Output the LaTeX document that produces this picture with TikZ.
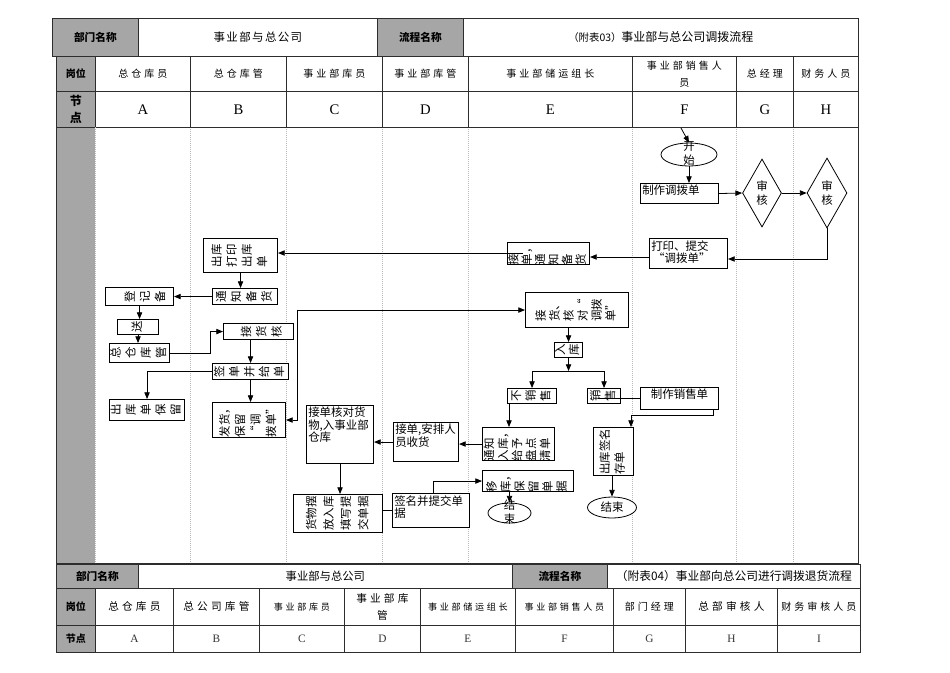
\documentclass[tikz,border=0pt]{standalone}
\usepackage{fontspec}
\setmainfont{Noto Sans CJK SC}
\newfontfamily\spfont{Noto Sans CJK SC}[LetterSpace=30]
\newfontfamily\spfontb{Noto Sans CJK SC}[LetterSpace=12]
\newfontfamily\latfont{Liberation Serif}
\usetikzlibrary{arrows.meta,shapes.geometric,calc}
\definecolor{hdr}{RGB}{166,166,166}
\definecolor{ln}{RGB}{45,45,45}
\newcommand\myfs[1]{\fontsize{#1}{12}\selectfont}
\newcommand\rt[2]{\fontsize{8.6}{#1}\selectfont\rotatebox{90}{\begin{tabular}{@{}l@{}}#2\end{tabular}}}
\newcommand\tc[7]{\node[draw=ln, line width=0.6pt, inner sep=0pt, align=center, anchor=north west, minimum width={(#4-#2)*0.75pt}, minimum height={(#5-#3)*0.75pt}, #6] (#1) at (#2,#3) {#7};}
\newcommand\bx[5]{\node[box, minimum width={(#4-#2)*0.75pt}, minimum height={(#5-#3)*0.75pt}] (#1) at (#2,#3) {};}
\begin{document}
\begin{tikzpicture}[x=0.75pt,y=-0.75pt,
  box/.style={draw=black, fill=white, line width=0.8pt, inner sep=0pt, anchor=north west},
  arr/.style={-{Triangle[length=5pt,width=4pt]}, line width=0.6pt},
  dbl/.style={{Triangle[length=5pt,width=4pt]}-{Triangle[length=5pt,width=4pt]}, line width=0.6pt},
  con/.style={line width=0.6pt},
  tl/.style={anchor=north west, inner sep=1.5pt, align=left, font=\fontsize{8.6}{9.2}\selectfont},
  txt/.style={inner sep=0pt, font=\fontsize{8.6}{10}\selectfont, align=center},
  ell/.style={ellipse, draw=black, fill=white, line width=0.6pt, inner sep=0pt},
  dia/.style={diamond, draw=black, fill=white, line width=0.6pt, inner sep=0pt},
  guide/.style={draw=gray!55, densely dotted, line width=0.5pt},
  hd/.style={fill=hdr, font=\bfseries\myfs{8}},
  hc/.style={font={\spfont\fontsize{7.5}{13}\selectfont}},
  lt/.style={font={\latfont\fontsize{11}{12}\selectfont}},
  lb/.style={font={\latfont\fontsize{8.5}{10}\selectfont}, text=black!80}
]
\useasboundingbox (0,0) rectangle (950,672);
\fill[white] (0,0) rectangle (950,672);

% ---------- top table ----------
\tc{h1}{52}{18}{138}{56}{hd}{部门名称}
\tc{h2}{138}{18}{377}{56}{font={\spfontb\myfs{8.6}}}{事业部与总公司}
\tc{h3}{377}{18}{463}{56}{hd}{流程名称}
\tc{h4}{463}{18}{858}{56}{font=\myfs{9}}{{\myfs{7.8}（附表03）}事业部与总公司调拨流程}

\tc{g0}{56}{56}{95}{91}{fill=hdr, font=\bfseries\myfs{7.5}}{岗位}
\tc{g1}{95}{56}{190}{91}{hc}{总仓库员}
\tc{g2}{190}{56}{286}{91}{hc}{总仓库管}
\tc{g3}{286}{56}{382}{91}{hc}{事业部库员}
\tc{g4}{382}{56}{468}{91}{hc}{事业部库管}
\tc{g5}{468}{56}{632}{91}{hc}{事业部储运组长}
\tc{g6}{632}{56}{736}{91}{hc}{事业部销售人\\员}
\tc{g7}{736}{56}{793}{91}{hc}{总经理}
\tc{g8}{793}{56}{858}{91}{hc}{财务人员}

\tc{n0}{56}{91}{95}{127}{fill=hdr, font={\bfseries\fontsize{9}{12.5}\selectfont}}{节\\点}
\tc{n1}{95}{91}{190}{127}{lt}{A}
\tc{n2}{190}{91}{286}{127}{lt}{B}
\tc{n3}{286}{91}{382}{127}{lt}{C}
\tc{n4}{382}{91}{468}{127}{lt}{D}
\tc{n5}{468}{91}{632}{127}{lt}{E}
\tc{n6}{632}{91}{736}{127}{lt}{F}
\tc{n7}{736}{91}{793}{127}{lt}{G}
\tc{n8}{793}{91}{858}{127}{lt}{H}

% ---------- body frame ----------
\fill[hdr] (56,127) rectangle (95,563);
\foreach \gx in {190,286,382,468,632,736,793}{\draw[guide] (\gx,127) -- (\gx,563);}
\draw[ln, line width=0.6pt] (56,127) rectangle (858,563);
\draw[guide] (95,127) -- (95,563);

% ---------- F / G / H : start ----------
\node[ell, minimum width=56*0.75pt, minimum height=23*0.75pt] (ks) at (689,154.5) {};
\node[txt, font=\fontsize{8.6}{10.5}\selectfont] (kst) at (689,154) {开\\始};
\coordinate (s0) at (681,128);
\draw[arr] (s0) -- (ks.north);

\bx{zd}{640}{183}{718}{203}
\node[tl] (zdt) at (zd.north west) {制作调拨单};
\draw[arr] (ks.south) -- (ks.south |- zd.north);

\node[dia, minimum width=39*0.75pt, minimum height=68*0.75pt] (d1) at (762,193) {};
\node[txt, font=\fontsize{8.6}{11}\selectfont] (d1t) at (762,193) {审\\核};
\node[dia, minimum width=40*0.75pt, minimum height=70*0.75pt] (d2) at (827,193) {};
\node[txt, font=\fontsize{8.6}{11}\selectfont] (d2t) at (827,193) {审\\核};
\draw[arr] (zd.east) -- (d1.west);
\draw[arr] (d1.east) -- (d2.west);

\bx{dy}{649}{238}{727}{268}
\node[tl] (dyt) at (dy.north west) {打印、提交\\\,“调拨单”};
\coordinate (c1) at (827,259);
\draw[arr] (d2.south) -- (c1) -- (c1 -| dy.east);

% ---------- E : notice ----------
\bx{jd}{507}{242}{589}{264}
\node[txt] (jdt) at (jd.center) {\rt{9.75}{接\\单，\\通\\知\\备\\货}};
\coordinate (y257) at (0,257);
\draw[arr] (dy.west |- y257) -- (jd.east |- y257);

% ---------- B : out ----------
\bx{ck}{203}{238}{277}{272}
\node[txt] (ckt) at (ck.center) {\rt{11.4}{出库\\打印\\出库\\单}};
\coordinate (jdin) at (523,253);
\draw[arr] (jdin) -- (jdin -| ck.east);

\bx{tz}{212}{288}{277}{304}
\node[txt] (tzt) at (tz.center) {\rt{11.4}{通\\知\\备\\货}};
\draw[arr] (ck.south) -- (ck.south |- tz.north);

\bx{dj}{105}{287}{173}{305}
\node[txt] (djt) at ([xshift=5pt]dj.center) {\rt{11.4}{登\\记\\备}};
\draw[arr] (tz.west) -- (tz.west -| dj.east);

\bx{song}{117}{319}{158}{334}
\node[txt] (songt) at (song.center) {\rt{11.4}{送}};
\draw[arr] (dj.south) -- (dj.south |- song.north);

\bx{zc}{109}{343}{169}{362}
\node[txt] (zct) at (zc.center) {\rt{11.4}{总\\仓\\库\\管}};
\draw[arr] (song.south) -- (song.south |- zc.north);

\bx{jh}{223}{323}{293}{339}
\node[txt] (jht) at ([xshift=3pt]jh.center) {\rt{11.4}{接\\货\\核}};
\draw[arr] (zc.east) -- ++(40,0) |- (jh.west);

\bx{qd}{212}{363}{288}{379}
\node[txt] (qdt) at (qd.center) {\rt{11.2}{签\\单\\并\\给\\单}};
\draw[arr] (jh.south -| qd.north) -- (qd.north);

\bx{cb}{109}{399}{184}{420}
\node[txt] (cbt) at (cb.center) {\rt{11.2}{出\\库\\单\\保\\留}};
\draw[arr] (qd.west) -| (cb.north);

\bx{fh}{212}{402}{285}{437}
\node[txt] (fht) at (fh.center) {\rt{11.6}{发货，\\保留\\“调\\拨单”}};
\draw[arr] (qd.south) -- (qd.south |- fh.north);

% ---------- E : receive ----------
\bx{jhd}{525}{292}{628}{327}
\node[txt] (jhdt) at (jhd.center) {\rt{10.5}{接\\货、\\核\\对“\\调拨\\单”}};
\draw[dbl] (fh.east) -- ++(11,0) |- (jhd.west);

\bx{rk}{554}{342}{582}{357}
\node[txt] (rkt) at (rk.center) {\rt{10.5}{入\\库}};
\draw[arr] (jhd.south -| rk.north) -- (rk.north);
\coordinate (yjn) at (0,371);
\coordinate (jn) at (rk.south |- yjn);
\draw[arr] (rk.south) -- (jn);

\bx{bxs}{507}{388}{556}{403}
\node[txt] (bxst) at (bxs.center) {\rt{11}{不\\销\\售}};
\bx{xs}{587}{388}{620}{403}
\node[txt] (xst) at (xs.center) {\rt{11}{销\\售}};
\draw[arr] (jn) -| (bxs.north);
\draw[arr] (jn) -| (xs.north);

\bx{ms}{640}{387}{718}{409}
\node[anchor=north, inner sep=1.5pt, font=\fontsize{8.6}{9.2}\selectfont] (mst) at (ms.north) {制作销售单};
\coordinate (xsin) at (598,398);
\draw[con] (xsin) -- (xsin -| ms.west);

\bx{cq}{593}{427}{633}{475}
\node[txt] (cqt) at (cq.center) {\rt{11}{出库签名\\存单}};
\coordinate (m1) at (713,409);
\coordinate (m2x) at (631,0);
\draw[arr] (m1) -- ++(0,6) -| (cq.north -| m2x);

\node[ell, minimum width=49*0.75pt, minimum height=21*0.75pt] (e2) at (612,507.5) {};
\node[txt] (e2t) at (612,507.5) {结束};
\draw[arr] (cq.south -| e2.north) -- (e2.north);

\bx{tr}{482}{427}{554}{460}
\node[txt] (trt) at (tr.center) {\rt{10.5}{通知\\入库，\\给予\\盘点\\清单}};
\coordinate (b1) at (509,403);
\draw[arr] (b1) -- (b1 |- tr.north);

\bx{ap}{393}{422}{458}{461}
\node[tl] (apt) at (ap.north west) {接单,安排人\\员收货};
\draw[arr] (tr.west) -- (tr.west -| ap.east);

\bx{jc}{306}{405}{373}{463}
\node[tl] (jct) at (jc.north west) {接单核对货\\物,入事业部\\仓库};
\draw[arr] (ap.west) -- (ap.west -| jc.east);

\bx{hw}{293}{494}{382}{532}
\node[txt] (hwt) at (hw.center) {\rt{13}{货物摆\\放入库\\填写提\\交单据}};
\draw[arr] (jc.south) -- (jc.south |- hw.north);

\bx{qm}{392}{493}{469}{527}
\node[tl] (qmt) at (qm.north west) {签名并提交单\\据};
\draw[con] (qm.west) -- (qm.west -| hw.east);

\bx{yk}{482}{470}{573}{491}
\node[txt] (ykt) at (yk.center) {\rt{10.5}{移\\库，\\保\\留\\单\\据}};
\coordinate (q1) at (433,0);
\draw[arr] (qm.north -| q1) |- (yk.west);

\node[ell, minimum width=43*0.75pt, minimum height=20*0.75pt] (e1) at (509.5,513) {};
\node[txt, font=\fontsize{8.6}{10}\selectfont] (e1t) at (509.5,512) {结\\束};
\draw[arr] (e1.north |- yk.south) -- (e1.north);

% ---------- bottom table ----------
\tc{b1}{56}{564}{138}{588}{hd}{部门名称}
\tc{b2}{138}{564}{512}{588}{font=\myfs{8.5}}{事业部与总公司}
\tc{b3}{512}{564}{607}{588}{hd}{流程名称}
\tc{b4}{607}{564}{860}{588}{font=\myfs{8.8}}{（附表04）事业部向总公司进行调拨退货流程}

\tc{k0}{56}{588}{95}{625}{fill=hdr, font=\bfseries\myfs{7.5}}{岗位}
\tc{k1}{95}{588}{173}{625}{font={\spfont\fontsize{8}{12}\selectfont}}{总仓库员}
\tc{k2}{173}{588}{259}{625}{font={\spfont\fontsize{8}{12}\selectfont}}{总公司库管}
\tc{k3}{259}{588}{344}{625}{font={\spfont\fontsize{6.8}{12}\selectfont}}{事业部库员}
\tc{k4}{344}{588}{420}{625}{font={\spfont\fontsize{8}{12.5}\selectfont}}{事业部库\\管}
\tc{k5}{420}{588}{515}{625}{font={\spfont\fontsize{6.8}{12}\selectfont}}{事业部储运组长}
\tc{k6}{515}{588}{613}{625}{font={\spfont\fontsize{6.8}{12}\selectfont}}{事业部销售人员}
\tc{k7}{613}{588}{685}{625}{font={\spfont\fontsize{7.5}{12}\selectfont}}{部门经理}
\tc{k8}{685}{588}{777}{625}{font={\spfont\fontsize{8}{12}\selectfont}}{总部审核人}
\tc{k9}{777}{588}{860}{625}{font={\spfont\fontsize{7.5}{12}\selectfont}}{财务审核人员}

\tc{m0}{56}{625}{95}{652}{fill=hdr, font=\bfseries\myfs{7.5}}{节点}
\tc{m1}{95}{625}{173}{652}{lb}{A}
\tc{m2}{173}{625}{259}{652}{lb}{B}
\tc{m3}{259}{625}{344}{652}{lb}{C}
\tc{m4}{344}{625}{420}{652}{lb}{D}
\tc{m5}{420}{625}{515}{652}{lb}{E}
\tc{m6}{515}{625}{613}{652}{lb}{F}
\tc{m7}{613}{625}{685}{652}{lb}{G}
\tc{m8}{685}{625}{777}{652}{lb}{H}
\tc{m9}{777}{625}{860}{652}{lb}{I}
\end{tikzpicture}
\end{document}
